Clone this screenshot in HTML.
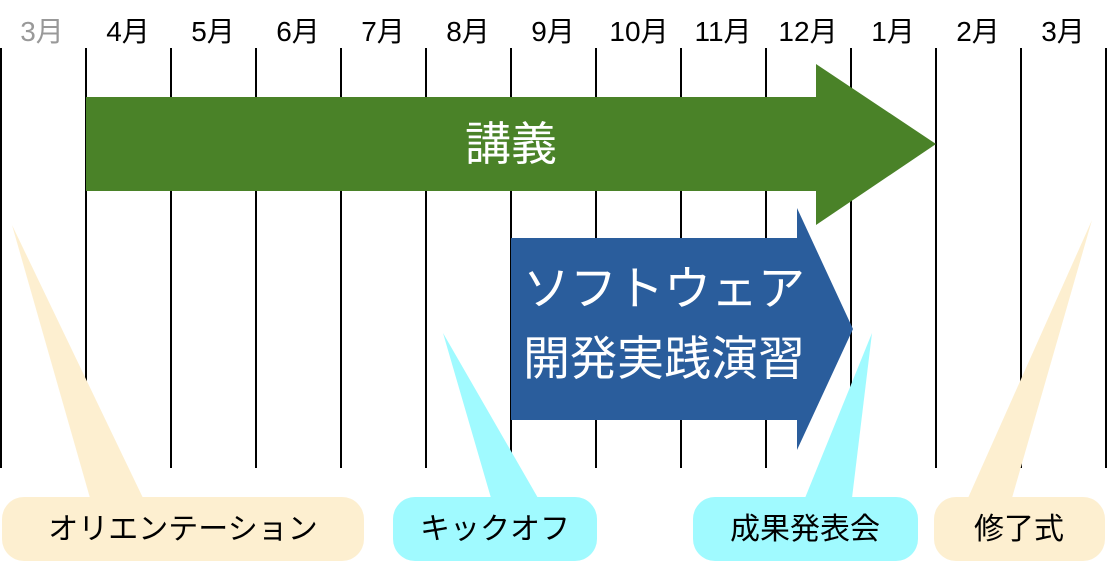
<!DOCTYPE html>
<html><head><meta charset="utf-8"><style>
body{margin:0;width:1110px;height:562px;background:#fff;overflow:hidden;font-family:"Liberation Sans","Noto Sans CJK JP",sans-serif}
</style></head><body>
<svg width="1110" height="562" xmlns="http://www.w3.org/2000/svg" font-family="Liberation Sans, Noto Sans CJK JP, sans-serif">
<g stroke="#000" stroke-width="2">
<line x1="1" y1="48" x2="1" y2="468"/><line x1="86" y1="48" x2="86" y2="468"/><line x1="171" y1="48" x2="171" y2="468"/><line x1="256" y1="48" x2="256" y2="468"/><line x1="341" y1="48" x2="341" y2="468"/><line x1="426" y1="48" x2="426" y2="468"/><line x1="511" y1="48" x2="511" y2="468"/><line x1="596" y1="48" x2="596" y2="468"/><line x1="681" y1="48" x2="681" y2="468"/><line x1="766" y1="48" x2="766" y2="468"/><line x1="851" y1="48" x2="851" y2="468"/><line x1="936" y1="48" x2="936" y2="468"/><line x1="1021" y1="48" x2="1021" y2="468"/><line x1="1106" y1="48" x2="1106" y2="468"/>
</g>
<g font-size="28" text-anchor="middle" fill="#000">
<text x="42" y="41" fill="#999">3月</text><text x="128" y="41">4月</text><text x="213" y="41">5月</text><text x="298" y="41">6月</text><text x="383" y="41">7月</text><text x="468" y="41">8月</text><text x="553" y="41">9月</text><text x="639" y="41">10月</text><text x="723" y="41">11月</text><text x="808" y="41">12月</text><text x="893" y="41">1月</text><text x="978" y="41">2月</text><text x="1063" y="41">3月</text>
</g>
<polygon points="86,97 816,97 816,64 936,144 816,225 816,191 86,191" fill="#4a8228"/>
<text x="511" y="160" font-size="46" fill="#fff" text-anchor="middle">講義</text>
<polygon points="511,238 797,238 797,208 853,329 797,450 797,420 511,420" fill="#2a5d9c"/>
<text x="664" y="305" font-size="47" fill="#fff" text-anchor="middle">ソフトウェア</text>
<text x="664" y="375" font-size="47" fill="#fff" text-anchor="middle">開発実践演習</text>
<polygon points="12,225 90,498 143,498" fill="#fdefd0"/>
<rect x="2" y="497" width="362" height="64" rx="22" fill="#fdefd0"/>
<text x="183" y="539" font-size="30" text-anchor="middle">オリエンテーション</text>
<polygon points="443,333 491,498 538,498" fill="#a0faff"/>
<rect x="393" y="497" width="204" height="64" rx="22" fill="#a0faff"/>
<text x="495" y="539" font-size="30" text-anchor="middle">キックオフ</text>
<polygon points="872,333 805,498 852,498" fill="#a0faff"/>
<rect x="693" y="497" width="225" height="64" rx="22" fill="#a0faff"/>
<text x="805" y="539" font-size="30" text-anchor="middle">成果発表会</text>
<polygon points="1092,220 968,498 1012,498" fill="#fdefd0"/>
<rect x="934" y="497" width="171" height="64" rx="22" fill="#fdefd0"/>
<text x="1019" y="539" font-size="30" text-anchor="middle">修了式</text>
</svg>
</body></html>
